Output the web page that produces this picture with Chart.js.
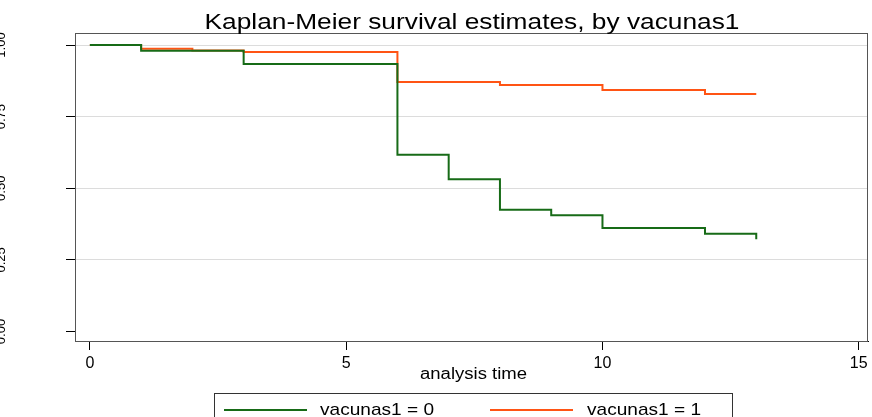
<!DOCTYPE html>
<html>
<head>
<meta charset="utf-8">
<script src="https://cdn.jsdelivr.net/npm/chart.js@4/dist/chart.umd.min.js"></script>
<style>
html,body{margin:0;padding:0;background:#fff;}
#wrap{width:872px;height:417px;position:relative;}
</style>
</head>
<body>
<div id="wrap"><canvas id="c" width="872" height="417"></canvas></div>
<script>
// ---- data ----
const titleText = 'Kaplan-Meier survival estimates, by vacunas1';
const xTitle = 'analysis time';
const seriesNames = ['vacunas1 = 0', 'vacunas1 = 1'];
const times0 = [0, 1, 3, 6, 7, 8, 9, 10, 12, 13];
const surv0  = [1, 0.980, 0.934, 0.617, 0.531, 0.425, 0.406, 0.361, 0.341, 0.322];
const times1 = [0, 1, 2, 3, 6, 8, 10, 12, 13];
const surv1  = [1, 0.987, 0.981, 0.976, 0.871, 0.860, 0.843, 0.829, 0.829];
const xTicks = [0, 5, 10, 15];
const yTicks = [0, 0.25, 0.5, 0.75, 1];
const yTickLabels = ['0.00', '0.25', '0.50', '0.75', '1.00'];
const colors = ['#176b17', '#ff5414'];

const FONT = "'Liberation Sans', Arial, sans-serif";

function stretchText(ctx, text, x, y, targetW) {
  const w = ctx.measureText(text).width;
  ctx.save();
  ctx.translate(x, y);
  ctx.scale(targetW / w, 1);
  ctx.fillText(text, 0, 0);
  ctx.restore();
}

const decor = {
  id: 'decor',
  afterDraw(chart) {
    const ctx = chart.ctx;
    const a = chart.chartArea;
    const ys = chart.scales.y;
    ctx.save();
    // frame
    ctx.strokeStyle = '#555';
    ctx.lineWidth = 1;
    ctx.strokeRect(Math.round(a.left) + 0.5, Math.round(a.top) + 0.5,
                   Math.round(a.right - a.left) - 1, Math.round(a.bottom - a.top));
    // title
    ctx.fillStyle = '#000';
    ctx.font = '22px ' + FONT;
    ctx.textAlign = 'left';
    ctx.textBaseline = 'alphabetic';
    stretchText(ctx, titleText, 472 - 535 / 2, 29, 535);
    // x title
    ctx.font = '16px ' + FONT;
    ctx.textBaseline = 'middle';
    stretchText(ctx, xTitle, 420, 375, 107);
    // y tick labels (rotated, partly off-canvas)
    ctx.font = '13px ' + FONT;
    ctx.textAlign = 'center';
    ctx.textBaseline = 'alphabetic';
    yTicks.forEach((v, i) => {
      const py = ys.getPixelForValue(v);
      ctx.save();
      ctx.translate(5, py);
      ctx.rotate(-Math.PI / 2);
      ctx.fillText(yTickLabels[i], 0, 0);
      ctx.restore();
    });
    // legend
    ctx.strokeStyle = '#333';
    ctx.lineWidth = 1;
    ctx.strokeRect(214.5, 393.5, 518, 40);
    const legX = [[224, 307, 320], [490, 573, 587]];
    ctx.font = '17px ' + FONT;
    ctx.textAlign = 'left';
    ctx.textBaseline = 'middle';
    chart.data.datasets.forEach((ds, i) => {
      ctx.strokeStyle = ds.borderColor;
      ctx.lineWidth = 2;
      ctx.beginPath();
      ctx.moveTo(legX[i][0], 410);
      ctx.lineTo(legX[i][1], 410);
      ctx.stroke();
      ctx.fillStyle = '#000';
      stretchText(ctx, ds.label, legX[i][2], 410, 114);
    });
    ctx.restore();
  }
};

new Chart(document.getElementById('c'), {
  type: 'line',
  data: {
    datasets: [
      { label: seriesNames[0], data: times0.map((t, i) => ({ x: t, y: surv0[i] })),
        borderColor: colors[0], backgroundColor: colors[0] },
      { label: seriesNames[1], data: times1.map((t, i) => ({ x: t, y: surv1[i] })),
        borderColor: colors[1], backgroundColor: colors[1] }
    ]
  },
  options: {
    responsive: false,
    animation: false,
    devicePixelRatio: 1,
    elements: {
      line: { stepped: true, borderWidth: 2, fill: false, tension: 0 },
      point: { radius: 0, hoverRadius: 0 }
    },
    layout: { padding: { top: 33, right: 4, left: 0, bottom: 0 } },
    plugins: { legend: { display: false }, title: { display: false }, tooltip: { enabled: false } },
    scales: {
      x: {
        type: 'linear',
        min: -0.29,
        max: 15.18,
        afterBuildTicks: s => { s.ticks = xTicks.map(v => ({ value: v })); },
        afterFit: s => { s.height = 76; },
        grid: { drawOnChartArea: false, drawTicks: true, tickLength: 9, tickColor: '#000' },
        border: { color: '#000', width: 1 },
        ticks: { color: '#000', font: { size: 16, family: FONT }, padding: 4, maxRotation: 0, autoSkip: false }
      },
      y: {
        type: 'linear',
        min: -0.0332,
        max: 1.0419,
        afterBuildTicks: s => { s.ticks = yTicks.map(v => ({ value: v })); },
        afterFit: s => { s.width = 75; },
        grid: {
          color: c => (c.tick && c.tick.value === 0) ? 'rgba(0,0,0,0)' : '#dcdcdc',
          tickColor: '#000', tickLength: 9, lineWidth: 1
        },
        border: { color: '#000', width: 1 },
        ticks: { display: false }
      }
    }
  },
  plugins: [decor]
});
</script>
</body>
</html>
